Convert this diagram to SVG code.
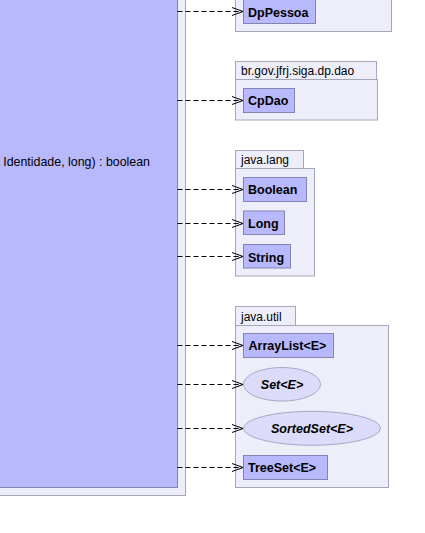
<svg xmlns="http://www.w3.org/2000/svg" width="425" height="533" viewBox="0 0 425 533">
<defs>
<style>
.pkg{fill:#EEEEFB;stroke:#A6A6BA;stroke-width:1}
.cls{fill:#B8B8FC;stroke:#8484B4;stroke-width:1}
.ell{fill:#DCDCFA;stroke:#A8A8C4;stroke-width:1}
.tab{font-family:"Liberation Sans",Arial,sans-serif;font-size:12px;fill:#000}
.lbl{font-family:"Liberation Sans",Arial,sans-serif;font-size:12.5px;font-weight:bold;fill:#000}
.ital{font-style:italic}
.op{font-family:"Liberation Sans",Arial,sans-serif;font-size:12.4px;fill:#000}
.dep{fill:none;stroke:#000;stroke-width:1;stroke-dasharray:5,3}
.head{fill:none;stroke:#000;stroke-width:1}
</style>
</defs>
<rect width="425" height="533" fill="#FFFFFF"/>
<g id="mainPackage">
<rect class="pkg" x="-10" y="-10" width="195.5" height="505.5"/>
</g>
<g id="mainClass">
<rect class="cls" x="-10" y="-10" width="187.5" height="497.5"/>
<text class="op" x="150" y="165.5" text-anchor="end">Identidade, long) : boolean</text>
</g>
<g id="pkg-dp">
<rect class="pkg" x="235.5" y="-10" width="156" height="41.5"/>
</g>
<g id="DpPessoa">
<rect class="cls" x="243.5" y="-0.5" width="72" height="24"/>
<text class="lbl" x="248" y="16.5">DpPessoa</text>
</g>
<g id="pkg-dao">
<rect class="pkg" x="235.5" y="61.5" width="141" height="18"/>
<rect class="pkg" x="235.5" y="79.5" width="142" height="40.5"/>
<text class="tab" x="241" y="75">br.gov.jfrj.siga.dp.dao</text>
</g>
<g id="CpDao">
<rect class="cls" x="243.5" y="88.5" width="51" height="24"/>
<text class="lbl" x="248" y="105">CpDao</text>
</g>
<g id="pkg-lang">
<rect class="pkg" x="235.5" y="150.5" width="68" height="18"/>
<rect class="pkg" x="235.5" y="168.5" width="79" height="107.5"/>
<text class="tab" x="241" y="164">java.lang</text>
</g>
<g id="Boolean">
<rect class="cls" x="243.5" y="177.5" width="63" height="24"/>
<text class="lbl" x="248" y="194">Boolean</text>
</g>
<g id="Long">
<rect class="cls" x="243.5" y="211" width="41" height="23.5"/>
<text class="lbl" x="248" y="228">Long</text>
</g>
<g id="String">
<rect class="cls" x="243.5" y="244.5" width="47" height="23.5"/>
<text class="lbl" x="248" y="261.5">String</text>
</g>
<g id="pkg-util">
<rect class="pkg" x="235.5" y="306.5" width="60" height="19"/>
<rect class="pkg" x="235.5" y="325.5" width="153" height="162"/>
<text class="tab" x="241" y="320.5">java.util</text>
</g>
<g id="ArrayList">
<rect class="cls" x="243.5" y="333.5" width="90" height="24"/>
<text class="lbl" x="248.5" y="350">ArrayList&lt;E&gt;</text>
</g>
<g id="Set">
<ellipse class="ell" cx="282" cy="384.3" rx="38.5" ry="16.8"/>
<text class="lbl ital" x="282" y="389" text-anchor="middle">Set&lt;E&gt;</text>
</g>
<g id="SortedSet">
<ellipse class="ell" cx="312" cy="428.3" rx="68.5" ry="17"/>
<text class="lbl ital" x="312" y="433" text-anchor="middle">SortedSet&lt;E&gt;</text>
</g>
<g id="TreeSet">
<rect class="cls" x="243.5" y="455.5" width="84" height="24"/>
<text class="lbl" x="248" y="472">TreeSet&lt;E&gt;</text>
</g>
<g id="connectors">
<path class="dep" d="M177.5 11.5H243"/>
<path class="head" d="M232 7.5L243 11.5L232 15.5"/>
<path class="dep" d="M177.5 100.5H243"/>
<path class="head" d="M232 96.5L243 100.5L232 104.5"/>
<path class="dep" d="M177.5 189.5H243"/>
<path class="head" d="M232 185.5L243 189.5L232 193.5"/>
<path class="dep" d="M177.5 223.5H243"/>
<path class="head" d="M232 219.5L243 223.5L232 227.5"/>
<path class="dep" d="M177.5 256.5H243"/>
<path class="head" d="M232 252.5L243 256.5L232 260.5"/>
<path class="dep" d="M177.5 345.5H243"/>
<path class="head" d="M232 341.5L243 345.5L232 349.5"/>
<path class="dep" d="M177.5 384.5H243"/>
<path class="head" d="M232 380.5L243 384.5L232 388.5"/>
<path class="dep" d="M177.5 428.5H243"/>
<path class="head" d="M232 424.5L243 428.5L232 432.5"/>
<path class="dep" d="M177.5 467.5H243"/>
<path class="head" d="M232 463.5L243 467.5L232 471.5"/>
</g>
</svg>
